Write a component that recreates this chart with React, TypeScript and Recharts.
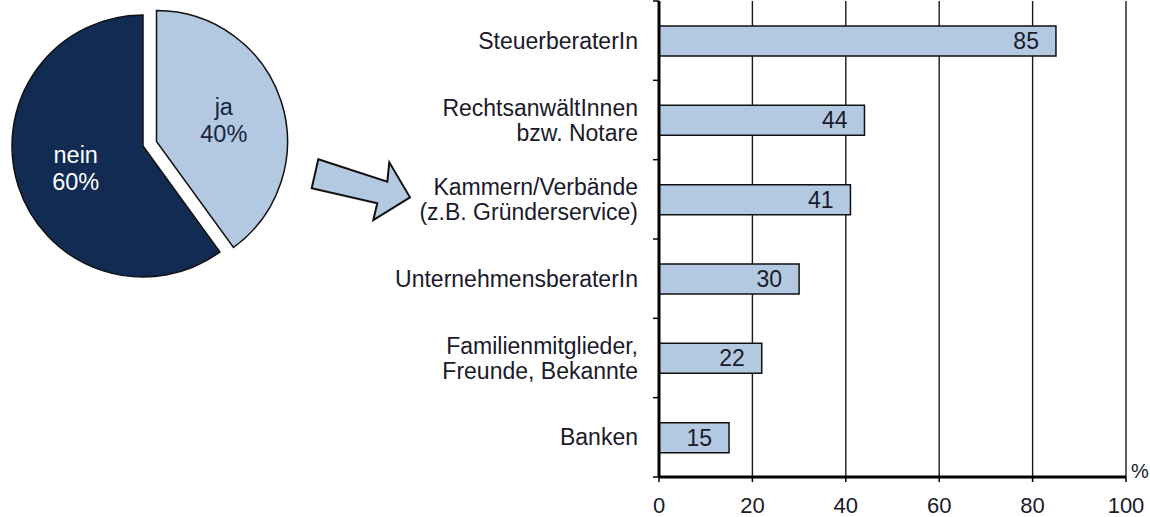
import React from "react";
import { BarChart, Bar, XAxis, YAxis, CartesianGrid, LabelList, PieChart, Pie, Cell } from "recharts";

const pieNames = ["ja", "nein"];
const pieValues = [40, 60];
const categories = [
  "SteuerberaterIn",
  "RechtsanwältInnen\nbzw. Notare",
  "Kammern/Verbände\n(z.B. Gründerservice)",
  "UnternehmensberaterIn",
  "Familienmitglieder,\nFreunde, Bekannte",
  "Banken",
];
const barValues = [85, 44, 41, 30, 22, 15];
const xTicks = [0, 20, 40, 60, 80, 100];

const LIGHT = "#B3C9E1";
const DARK = "#112B52";
const FONT = "'Liberation Sans', Arial, sans-serif";

const barData = categories.map((c, i) => ({ name: c, value: barValues[i] }));
const pieData = pieNames.map((n, i) => ({ name: n, value: pieValues[i] }));

const CHART_W = 1150;
const CHART_H = 517;
const M_TOP = 1;
const X_AXIS_H = 40;
const Y_AXIS_W = 659;
const PLOT_H = CHART_H - M_TOP - X_AXIS_H;
const BAND = PLOT_H / categories.length;

const YTick = (props: any) => {
  const { y, payload, index } = props;
  const lines = String(payload.value).split("\n");
  const lh = 25;
  const y0 = y - ((lines.length - 1) * lh) / 2;
  const ax = Y_AXIS_W;
  return (
    <g>
      <line x1={ax - 6} x2={ax} y1={y - BAND / 2} y2={y - BAND / 2} stroke="#000" strokeWidth={1.5} />
      {index === categories.length - 1 && (
        <line x1={ax - 6} x2={ax} y1={y + BAND / 2} y2={y + BAND / 2} stroke="#000" strokeWidth={1.5} />
      )}
      {lines.map((l, i) => (
        <text
          key={i}
          x={ax - 21}
          y={y0 + i * lh}
          textAnchor="end"
          dominantBaseline="central"
          fontSize={23}
          fontFamily={FONT}
          fill="#1a1a2a"
        >
          {l}
        </text>
      ))}
    </g>
  );
};

const RADIAN = Math.PI / 180;
const makeLabel = (which: number, color: string) => (props: any) => {
  const { cx, cy, midAngle, outerRadius, index, name, value } = props;
  if (index !== which) return null;
  const r = outerRadius * 0.54;
  const x = cx + r * Math.cos(-midAngle * RADIAN);
  const y = cy + r * Math.sin(-midAngle * RADIAN);
  return (
    <text x={x} y={y} textAnchor="middle" fontSize={23.5} fontFamily={FONT} fill={color}>
      <tspan x={x} dy={-5}>{name}</tspan>
      <tspan x={x} dy={27}>{`${value}%`}</tspan>
    </text>
  );
};

export default function App() {
  return (
    <div style={{ position: "absolute", left: 0, top: 0, width: CHART_W, height: CHART_H, fontFamily: FONT, background: "#fff" }}>
      <div style={{ position: "absolute", left: 0, top: 0 }}>
        <BarChart
          width={CHART_W}
          height={CHART_H}
          data={barData}
          layout="vertical"
          margin={{ top: M_TOP, right: 24, left: 0, bottom: 0 }}
          barCategoryGap={0}
        >
          <CartesianGrid horizontal={false} vertical={true} stroke="#1a1a1a" strokeWidth={1.4} strokeOpacity={1} />
          <XAxis
            type="number"
            domain={[0, 100]}
            ticks={xTicks}
            height={X_AXIS_H}
            axisLine={{ stroke: "#000", strokeWidth: 3 }}
            tickLine={{ stroke: "#000", strokeWidth: 1.5 }}
            tickSize={5}
            tickMargin={15}
            tick={{ fontSize: 22, fill: "#1a1a2a", fontFamily: FONT }}
            interval={0}
          />
          <YAxis
            type="category"
            dataKey="name"
            width={Y_AXIS_W}
            axisLine={{ stroke: "#000", strokeWidth: 3 }}
            tickLine={false}
            tick={<YTick />}
            interval={0}
          />
          <Bar dataKey="value" fill={LIGHT} stroke="#111" strokeWidth={1.5} barSize={30} isAnimationActive={false}>
            <LabelList dataKey="value" position="insideRight" offset={17} fill="#1a1a2a" fontSize={23} fontFamily={FONT} />
          </Bar>
        </BarChart>
      </div>

      <div style={{ position: "absolute", left: 1131, top: 460, fontSize: 20, color: "#1a1a2a", fontFamily: FONT }}>%</div>

      <div style={{ position: "absolute", left: 0, top: 0 }}>
        <PieChart width={320} height={300} margin={{ top: 0, right: 0, bottom: 0, left: 0 }}>
          <Pie
            data={pieData}
            dataKey="value"
            nameKey="name"
            cx={143}
            cy={146}
            outerRadius={131}
            startAngle={90}
            endAngle={-270}
            isAnimationActive={false}
            labelLine={false}
            label={makeLabel(1, "#ffffff")}
          >
            <Cell fill="none" stroke="none" />
            <Cell fill={DARK} stroke="#111" strokeWidth={1.5} />
          </Pie>
          <Pie
            data={pieData}
            dataKey="value"
            nameKey="name"
            cx={156.5}
            cy={141.5}
            outerRadius={131}
            startAngle={90}
            endAngle={-270}
            isAnimationActive={false}
            labelLine={false}
            label={makeLabel(0, "#1a2440")}
          >
            <Cell fill={LIGHT} stroke="#111" strokeWidth={1.5} />
            <Cell fill="none" stroke="none" />
          </Pie>
        </PieChart>
      </div>

      <svg style={{ position: "absolute", left: 0, top: 0 }} width={CHART_W} height={CHART_H} pointerEvents="none">
        <polygon
          points="318.3,159.3 387.3,181.7 389.3,162.3 410,197.3 373.3,220 377.3,203.3 311.7,188.3"
          fill={LIGHT}
          stroke="#111"
          strokeWidth={2}
          strokeLinejoin="miter"
        />
      </svg>
    </div>
  );
}
